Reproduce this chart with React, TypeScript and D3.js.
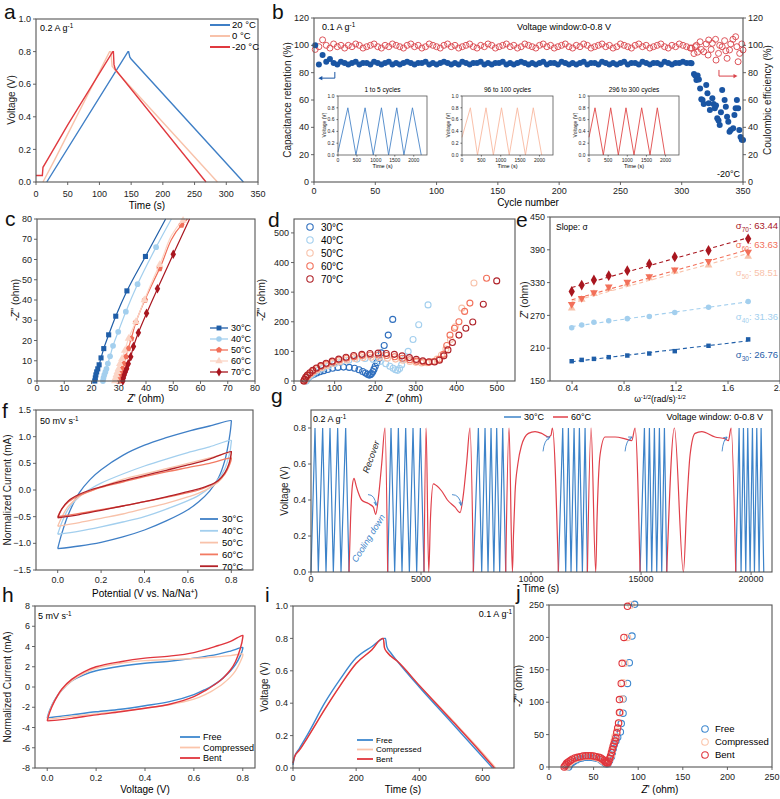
import React from 'react'
import * as d3 from 'd3'

const FONT = 'Liberation Sans, Arial, Helvetica, sans-serif'

// ---------- a : GCD at three temperatures ----------
const aT20 = [17, 145, 146, 148, 150, 327]
const aV20 = [0, 0.8, 0.8, 0.765, 0.755, 0]
const aT0 = [11, 30, 116, 118, 120, 124, 286]
const aV0 = [0, 0.14, 0.8, 0.8, 0.71, 0.69, 0]
const aTm20 = [0, 10, 11, 20, 50, 121, 122, 123, 125, 268]
const aVm20 = [0.04, 0.04, 0.09, 0.15, 0.35, 0.8, 0.8, 0.72, 0.69, 0]

// ---------- b : cycling at -20 C ----------
const bRetStable = [100, 86, 93, 88, 90, 87, 86, 88, 87, 86, 87, 88, 86, 87, 87, 86, 88, 87, 86, 87, 88, 86, 87, 86, 87, 88, 87, 86, 87, 87, 88, 86, 87, 86, 87, 88, 87, 86, 87, 86, 88, 87, 86, 87, 87, 88, 86, 87, 86, 87, 87, 88, 86, 87, 86, 87, 88, 87, 86, 87, 86, 87, 88, 86, 87, 87, 86, 88, 87, 86, 87, 86, 87, 88, 86, 87, 87, 86, 88, 87, 86, 87, 86, 87, 88, 86, 87, 87, 86, 88, 87, 86, 87, 87, 86, 88, 87, 86, 87, 87, 88, 87, 87]
const bEffStable = [97, 99, 104, 100, 98, 101, 99, 100, 98, 100, 99, 101, 100, 98, 99, 100, 101, 99, 98, 100, 99, 101, 100, 99, 98, 100, 101, 99, 100, 98, 99, 101, 100, 99, 98, 100, 101, 99, 100, 98, 99, 100, 101, 99, 98, 100, 99, 101, 100, 98, 99, 100, 101, 99, 100, 98, 99, 101, 100, 99, 98, 100, 101, 99, 100, 98, 99, 100, 101, 99, 98, 100, 99, 101, 100, 98, 99, 100, 101, 99, 100, 98, 99, 101, 100, 99, 98, 100, 101, 99, 100, 98, 99, 100, 101, 99, 98, 100, 99, 101, 100, 99, 98]
const bRetTailC = [308, 310, 311, 312, 313, 314, 315, 316, 317, 318, 320, 321, 322, 323, 325, 326, 327, 328, 329, 330, 331, 332, 333, 335, 336, 337, 338, 339, 340, 342, 343, 344, 345, 346, 347, 348, 349, 350]
const bRetTail = [86.8, 79, 78, 74.6, 78, 75, 68.5, 60.5, 60, 57, 71, 65, 57.6, 52.7, 61.2, 57, 53.9, 56, 46.6, 45, 41.7, 51, 67.3, 60, 55, 47.8, 44, 36.8, 38, 39.3, 49, 54, 60, 53.9, 38, 33, 31, 30.7]
const bEffTailC = [308, 310, 311, 312, 313, 315, 316, 318, 320, 321.5, 322, 324, 325, 327.6, 328, 330, 331, 333, 335, 336, 337, 339, 340, 341.8, 344, 345, 346, 347.3, 349, 350]
const bEffTail = [98, 94, 99, 100, 95, 102.6, 97, 95.3, 101, 92.9, 103.9, 97, 101.5, 104.4, 89.2, 94.1, 100, 99, 103.4, 96, 90.5, 96.6, 101, 104.4, 106.3, 99, 88, 94.1, 101, 96.6]
const bIn1 = [[0, 0.05], [260, 0.8], [474, 0], [715, 0.8], [931, 0], [1147, 0.8], [1336, 0], [1552, 0.8], [1741, 0], [1966, 0.8], [2198, 0]]
const bIn2 = [[0, 0.3], [216, 0.8], [400, 0], [620, 0.8], [810, 0], [1020, 0.8], [1220, 0], [1430, 0.8], [1638, 0], [1841, 0.8], [2058, 0]]
const bIn3 = [[0, 0.3], [157, 0.8], [374, 0], [566, 0.8], [766, 0], [966, 0.8], [1175, 0], [1375, 0.8], [1593, 0], [1784, 0.8], [1984, 0]]
const bInTitles = ['1 to 5 cycles', '96 to 100 cycles', '296 to 300 cycles']

// ---------- c : high-frequency Nyquist ----------
const cX30 = [21.2, 21.4, 21.6, 21.9, 22.3, 22.8, 23.5, 24.5, 26.3, 28.9, 33.0, 39.8, 47.2]
const cY30 = [0, 1.5, 3, 4.5, 6, 8, 11.4, 16, 22.8, 32, 44.5, 61.5, 80]
const cX40 = [24.2, 24.4, 24.7, 25.1, 25.5, 26.0, 26.8, 27.9, 29.8, 32.6, 36.9, 43.7, 49.3]
const cY40 = [0, 1.5, 3, 4.5, 6, 8.6, 12.2, 17.4, 24.3, 34.2, 47.8, 66.1, 80]
const cX50 = [30.0, 30.2, 30.5, 30.9, 31.3, 31.9, 32.6, 33.5, 34.6, 36.3, 39.6, 45.0, 53.0, 55.2]
const cY50 = [0, 1.5, 3, 4.5, 6, 8.5, 12, 16, 21, 29, 40, 55.5, 77, 80]
const cX60 = [28.6, 28.8, 29.1, 29.5, 29.9, 30.4, 31.2, 32.2, 33.6, 36.3, 39.4, 45.0, 53.6, 54.2]
const cY60 = [0, 1.5, 3, 4.5, 6, 8.5, 11, 15, 21, 29.3, 40, 57.4, 79.3, 80]
const cX70 = [31.5, 31.7, 32.0, 32.4, 32.9, 33.5, 34.4, 35.4, 37.2, 40.2, 44.2, 50.0, 56.0]
const cY70 = [0, 1.5, 3, 4.5, 6, 8.5, 12, 17, 23.8, 33.4, 45.5, 62.6, 80]

// ---------- d : full Nyquist ----------
const dR30 = [28, 29, 31, 34, 38, 43, 49, 56, 64, 73, 83, 95, 108, 122, 136, 149, 160, 169, 176, 181, 185, 188, 191, 194, 197, 200, 204, 209, 215, 222, 232, 243]
const dI30 = [0, 3, 7, 11, 15, 19, 23, 27, 31, 35, 39, 43, 46, 47, 46, 43, 38, 32, 27, 23, 20, 21, 25, 31, 40, 50, 62, 77, 95, 120, 155, 208]
const dR40 = [30, 32, 35, 39, 45, 52, 61, 72, 85, 100, 117, 135, 155, 175, 195, 212, 226, 236, 244, 250, 255, 260, 265, 272, 281, 293, 307, 330]
const dI40 = [0, 5, 10, 16, 23, 30, 37, 44, 51, 58, 64, 70, 74, 76, 73, 66, 58, 50, 43, 38, 36, 42, 55, 75, 100, 140, 190, 257]
const dR50 = [26, 28, 31, 35, 41, 48, 57, 68, 81, 96, 112, 130, 150, 170, 190, 210, 230, 250, 268, 285, 300, 314, 327, 340, 352, 363, 374, 385, 397, 413, 443]
const dI50 = [0, 5, 11, 17, 24, 31, 38, 45, 52, 59, 65, 71, 76, 79, 80, 79, 77, 74, 70, 66, 63, 61, 62, 66, 74, 88, 108, 140, 183, 246, 331]
const dR60 = [25, 27, 30, 34, 40, 47, 56, 67, 80, 95, 111, 129, 148, 168, 188, 208, 228, 248, 267, 285, 302, 318, 332, 345, 357, 368, 376, 384, 395, 406, 420, 433, 474]
const dI60 = [0, 6, 12, 19, 26, 34, 42, 50, 57, 64, 71, 77, 82, 86, 88, 88, 86, 82, 77, 72, 67, 64, 63, 66, 73, 90, 120, 155, 178, 200, 235, 263, 347]
const dR70 = [24, 26, 29, 33, 39, 46, 55, 66, 79, 94, 110, 128, 147, 167, 187, 207, 227, 247, 266, 284, 301, 317, 332, 346, 358, 369, 379, 390, 406, 423, 440, 466, 499]
const dI70 = [0, 6, 13, 20, 28, 36, 44, 52, 60, 67, 74, 80, 86, 90, 93, 94, 93, 90, 85, 79, 73, 68, 65, 64, 70, 85, 105, 130, 155, 178, 199, 259, 338]

// ---------- e : Warburg slopes ----------
const eW = [0.397, 0.474, 0.568, 0.682, 0.825, 0.994, 1.19, 1.45, 1.755]
const e30 = [186.2, 188.6, 190.5, 193.6, 196.6, 200.3, 204.6, 214.4, 226.1]
const e40 = [247.5, 252.4, 257.3, 260.4, 264.1, 267.8, 275.2, 285.0, 295.4]
const e50 = [283.1, 299.1, 309.5, 318.7, 327.3, 338.3, 350.6, 361.7, 377.6]
const e60 = [290.5, 301.5, 311.9, 322.4, 331.0, 341.4, 353.7, 369.0, 386.2]
const e70 = [313.8, 325.5, 334.7, 342.7, 351.8, 364.1, 377.0, 388.7, 410.1]
const eSig = ['26.76', '31.36', '58.51', '63.63', '63.44']

// ---------- f : CV 50 mV/s ----------
const fX = [0, 0.02, 0.05, 0.1, 0.15, 0.2, 0.3, 0.4, 0.5, 0.6, 0.7, 0.8, 0.8, 0.79, 0.77, 0.74, 0.7, 0.65, 0.6, 0.5, 0.4, 0.3, 0.2, 0.1, 0]
const f30 = [-1.1, -0.8, -0.45, -0.05, 0.2, 0.38, 0.65, 0.84, 0.98, 1.1, 1.2, 1.3, 1.28, 0.95, 0.55, 0.22, -0.02, -0.22, -0.37, -0.58, -0.75, -0.88, -0.98, -1.05, -1.1]
const f40 = [-0.83, -0.6, -0.35, -0.12, 0.02, 0.13, 0.3, 0.45, 0.58, 0.7, 0.81, 0.93, 0.9, 0.65, 0.4, 0.2, 0.04, -0.1, -0.2, -0.36, -0.5, -0.6, -0.69, -0.77, -0.83]
const f50 = [-0.68, -0.5, -0.3, -0.12, -0.02, 0.06, 0.2, 0.3, 0.4, 0.5, 0.6, 0.7, 0.68, 0.5, 0.3, 0.15, 0.04, -0.06, -0.13, -0.25, -0.35, -0.45, -0.53, -0.61, -0.68]
const f60 = [-0.5, -0.35, -0.22, -0.1, -0.02, 0.05, 0.15, 0.25, 0.34, 0.42, 0.5, 0.6, 0.58, 0.45, 0.3, 0.17, 0.08, 0.0, -0.05, -0.14, -0.22, -0.3, -0.37, -0.44, -0.5]
const f70 = [-0.52, -0.35, -0.2, -0.08, 0.0, 0.06, 0.17, 0.27, 0.37, 0.47, 0.58, 0.72, 0.7, 0.5, 0.32, 0.18, 0.09, 0.02, -0.03, -0.13, -0.22, -0.3, -0.38, -0.46, -0.52]

// ---------- g : temperature switching ----------
const gBlue = [
  [[0, 0], [182, 0.8], [333, 0], [530, 0.8], [682, 0], [864, 0.8], [1015, 0], [1212, 0.8], [1364, 0], [1576, 0.8], [1727, 0]],
  [[3485, 0], [3636, 0.8], [3803, 0], [3970, 0.8], [4136, 0], [4303, 0.8], [4470, 0], [4636, 0.8], [4803, 0], [4970, 0.8], [5136, 0]],
  [[7379, 0], [7606, 0.8], [7758, 0], [7909, 0.8], [8045, 0], [8182, 0.8], [8310, 0], [8439, 0.8], [8575, 0], [8712, 0.8], [8848, 0]],
  [[11242, 0], [11439, 0.8], [11576, 0], [11697, 0.8], [11818, 0], [11955, 0.8], [12076, 0], [12197, 0.8], [12333, 0], [12455, 0.8], [12561, 0]],
  [[14955, 0], [15152, 0.8], [15258, 0], [15379, 0.8], [15485, 0], [15606, 0.8], [15712, 0], [15833, 0.8], [15939, 0], [16061, 0.8], [16167, 0]],
  [[19303, 0], [19455, 0.8], [19545, 0], [19652, 0.8], [19758, 0], [19848, 0.8], [19955, 0], [20061, 0.8], [20152, 0], [20258, 0.8], [20364, 0], [20455, 0.8], [20576, 0]],
]
const gRed = [
  [[1727, 0], [1800, 0.3], [1880, 0.48], [1955, 0.52], [2050, 0.48], [2152, 0.44], [2303, 0.4], [2606, 0.38], [2833, 0.36], [2940, 0.32], [3060, 0.41], [3212, 0.6], [3364, 0.8], [3485, 0]],
  [[5136, 0], [5230, 0.8], [5350, 0], [5430, 0.3], [5560, 0.49], [5700, 0.48], [5939, 0.45], [6200, 0.4], [6545, 0.36], [6773, 0.33], [6924, 0.43], [7076, 0.61], [7227, 0.8], [7379, 0]],
  [[8848, 0], [9000, 0.8], [9152, 0], [9200, 0.2], [9273, 0.44], [9400, 0.6], [9560, 0.7], [9879, 0.77], [10182, 0.78], [10485, 0.77], [10788, 0.75], [10909, 0.76], [10970, 0.8], [11242, 0]],
  [[12561, 0], [12727, 0.8], [12939, 0], [13000, 0.3], [13136, 0.65], [13364, 0.75], [13818, 0.75], [14273, 0.74], [14576, 0.73], [14727, 0.8], [14955, 0]],
  [[16167, 0], [16515, 0.8], [16924, 0], [17076, 0.37], [17227, 0.65], [17455, 0.77], [17758, 0.78], [18364, 0.75], [18818, 0.74], [18970, 0.73], [19091, 0.8], [19303, 0]],
]
const gCoolArrows = [[2590, 0.43, 2955, 0.37], [6409, 0.43, 6818, 0.37]]
const gRecArrows = [[10545, 0.67, 10864, 0.75], [14273, 0.67, 14591, 0.75], [18682, 0.67, 18909, 0.75]]

// ---------- h : CV 5 mV/s under deformation ----------
const hX = [0, 0.01, 0.03, 0.06, 0.1, 0.15, 0.2, 0.3, 0.4, 0.5, 0.6, 0.7, 0.75, 0.8, 0.8, 0.79, 0.77, 0.75, 0.72, 0.7, 0.67, 0.65, 0.6, 0.5, 0.4, 0.3, 0.2, 0.1, 0.05, 0]
const hFree = [-3.05, -2.3, -1.3, -0.3, 0.6, 1.2, 1.6, 2.05, 2.35, 2.55, 2.85, 3.25, 3.55, 3.9, 3.8, 3.1, 2.2, 1.6, 0.9, 0.5, 0.05, -0.2, -0.75, -1.45, -1.85, -2.2, -2.45, -2.75, -2.9, -3.05]
const hComp = [-3.2, -2.4, -1.35, -0.3, 0.6, 1.35, 1.85, 2.35, 2.6, 2.72, 2.82, 3.0, 3.1, 3.25, 3.1, 2.5, 1.6, 1.0, 0.35, 0.0, -0.45, -0.7, -1.2, -1.75, -2.1, -2.4, -2.65, -2.9, -3.05, -3.2]
const hBent = [-3.35, -2.5, -1.4, -0.2, 0.75, 1.5, 2.0, 2.5, 2.85, 3.05, 3.4, 4.1, 4.5, 5.1, 4.9, 3.8, 2.5, 1.7, 0.9, 0.5, 0.0, -0.3, -0.95, -1.7, -2.1, -2.45, -2.75, -3.1, -3.25, -3.35]

// ---------- i : GCD 0.1 A/g ----------
const iTFree = [0, 5, 20, 50, 100, 150, 200, 250, 290, 293, 297, 310, 330, 400, 500, 600, 632]
const iVFree = [0.02, 0.07, 0.12, 0.22, 0.4, 0.55, 0.68, 0.75, 0.8, 0.8, 0.75, 0.71, 0.66, 0.5, 0.285, 0.07, 0]
const iTBent = [0, 5, 20, 50, 100, 150, 200, 250, 284, 286, 290, 300, 330, 400, 500, 600, 638]
const iVBent = [0.03, 0.07, 0.11, 0.2, 0.36, 0.51, 0.645, 0.73, 0.8, 0.8, 0.74, 0.71, 0.66, 0.51, 0.3, 0.085, 0]
const iTComp = [0, 5, 20, 50, 100, 150, 200, 250, 284, 286, 290, 300, 330, 400, 500, 600, 642]
const iVComp = [0.03, 0.07, 0.11, 0.2, 0.36, 0.51, 0.645, 0.73, 0.8, 0.8, 0.74, 0.71, 0.66, 0.51, 0.305, 0.095, 0]

// ---------- j : Nyquist under deformation ----------
const jRBent = [17, 18, 19, 20, 22, 24, 26, 29, 32, 35, 38, 41, 44, 47, 50, 53, 56, 58, 60, 62, 63, 64, 65, 66, 67, 68, 69, 70, 71, 72, 73, 74, 75, 76, 77, 78, 79, 79, 81, 82, 84, 88]
const jIBent = [0, 2, 4, 6, 8, 10, 12, 14, 15, 16, 17, 17.5, 17.5, 17.5, 17, 16, 15, 14, 12, 10, 8, 7, 6, 6, 9, 13, 17, 22, 27, 32, 36, 40, 45, 53, 60, 68, 84, 104, 129, 160, 200, 248]
const jRComp = [20, 21, 22, 24, 26, 29, 32, 35, 38, 41, 44, 47, 50, 53, 56, 59, 61, 63, 64, 66, 68, 70, 71, 72, 73, 74, 76, 78, 80, 82, 83, 85, 88, 92]
const jIComp = [0, 3, 5, 8, 10, 12, 14, 15, 16, 16.5, 16.5, 16.5, 16, 15, 13, 11, 9, 7, 6, 6, 12, 18, 25, 32, 40, 47, 55, 67, 84, 105, 130, 160, 200, 250]
const jRFree = [22, 23, 24, 26, 28, 31, 34, 37, 40, 43, 46, 49, 52, 55, 58, 60, 62, 63, 64, 66, 68, 70, 71, 72, 73, 75, 77, 80, 81, 83, 83, 88, 90, 93, 96]
const jIFree = [0, 3, 5, 7, 9, 11, 13, 14, 15, 15, 15, 14.5, 14, 13, 11, 9, 7, 6, 5, 5, 10, 16, 22, 28, 34, 40, 46, 54, 67, 83, 105, 129, 161, 202, 251]

const C = {
  blue: '#3f7fc6', dblue: '#1f5ea8', lblue: '#a3cfee', peach: '#f8c2aa', orange: '#f2705a', red: '#e0393f', dred: '#a8161f',
}

const zip = (a: number[], b: number[]) => a.map((v, i) => [v, b[i]])

function Frame({ x, y, xt, yt, xf = (v: any) => String(v), yf = (v: any) => String(v), fs = 9, tl = 3, xo = 12, yr, sw = 1.1 }: any) {
  const [x0, x1] = x.range()
  const [yb, ytop] = y.range()
  return (
    <g fontSize={fs} fill="#222">
      {xt.map((t: number) => (
        <g key={'x' + t}>
          <line x1={x(t)} x2={x(t)} y1={yb} y2={yb + tl} stroke="#555" strokeWidth={0.9} />
          <text x={x(t)} y={yb + xo} textAnchor="middle">{xf(t)}</text>
        </g>
      ))}
      {yt.map((t: number) => (
        <g key={'y' + t}>
          <line x1={x0 - tl} x2={x0} y1={y(t)} y2={y(t)} stroke="#555" strokeWidth={0.9} />
          <text x={x0 - tl - 2} y={y(t)} dy="0.35em" textAnchor="end">{yf(t)}</text>
        </g>
      ))}
      {yr && yt.map((t: number) => (
        <g key={'r' + t}>
          <line x1={x1} x2={x1 + tl} y1={y(t)} y2={y(t)} stroke="#555" strokeWidth={0.9} />
          <text x={x1 + tl + 2} y={y(t)} dy="0.35em" textAnchor="start">{yf(t)}</text>
        </g>
      ))}
      <rect x={x0} y={ytop} width={x1 - x0} height={yb - ytop} fill="none" stroke="#555" strokeWidth={sw} />
    </g>
  )
}

function sym(type: string, size: number) {
  if (type === 'pent') {
    const r = Math.sqrt(size / 2.4)
    const pts = d3.range(5).map(i => {
      const a = -Math.PI / 2 + (i * 2 * Math.PI) / 5
      return [r * Math.cos(a), r * Math.sin(a)]
    })
    return 'M' + pts.map(p => p.join(',')).join('L') + 'Z'
  }
  const m: any = { square: d3.symbolSquare, circle: d3.symbolCircle, tri: d3.symbolTriangle, diamond: d3.symbolDiamond }
  return d3.symbol().type(m[type] || d3.symbolCircle).size(size)() as string
}

const YLabel = ({ x, y, children, fs = 10 }: any) => (
  <text transform={`translate(${x},${y}) rotate(-90)`} textAnchor="middle" fontSize={fs} fill="#222">{children}</text>
)
const Letter = ({ x, y, t }: any) => <text x={x} y={y} fontSize={21} fill="#111">{t}</text>
const Sup = ({ children }: any) => <tspan dy={-3.5} fontSize="0.7em">{children}</tspan>

function fit(xs: number[], ys: number[]) {
  const mx = d3.mean(xs) as number
  const my = d3.mean(ys) as number
  const k = d3.sum(xs.map((v, i) => (v - mx) * (ys[i] - my))) / d3.sum(xs.map(v => (v - mx) ** 2))
  return (v: number) => my + k * (v - mx)
}

export default function App() {
  // ---------- scales ----------
  const xA = d3.scaleLinear([0, 350], [36, 258]), yA = d3.scaleLinear([0, 1], [182, 19])
  const xB = d3.scaleLinear([0, 350], [314, 743]), yB = d3.scaleLinear([0, 120], [182, 18])
  const yIn = d3.scaleLinear([0, 1], [155, 96])
  const inX = [[338, 427], [462, 553], [589, 679]].map(r => d3.scaleLinear([0, 2350], r))
  const xC = d3.scaleLinear([0, 80], [37, 255]), yC = d3.scaleLinear([0, 80], [381, 219])
  const xD = d3.scaleLinear([0, 544], [294, 515]), yD = d3.scaleLinear([0, 547], [381, 219])
  const xE = d3.scaleLinear([0.23, 2.0], [550, 780]), yE = d3.scaleLinear([150, 450], [381, 217])
  const xF = d3.scaleLinear([-0.1, 0.9], [36, 253]), yF = d3.scaleLinear([-1.5, 1.5], [570, 410])
  const xG = d3.scaleLinear([0, 20950], [311, 772]), yG = d3.scaleLinear([0, 0.9], [572, 410])
  const xH = d3.scaleLinear([-0.05, 0.85], [35, 255]), yH = d3.scaleLinear([-8, 8], [768, 606])
  const xI = d3.scaleLinear([0, 700], [293, 514]), yI = d3.scaleLinear([0, 1], [768, 606])
  const xJ = d3.scaleLinear([0, 250], [549, 772]), yJ = d3.scaleLinear([0, 250], [767, 605])

  const f1 = d3.format('.1f')
  const ln = (x: any, y: any, curve: any = d3.curveLinear) => d3.line<any>().x(d => x(d[0])).y(d => y(d[1])).curve(curve)

  // ---------- a ----------
  const lA = ln(xA, yA)
  const aSeries = [
    { t: aT20, v: aV20, c: C.blue, n: '20 °C' },
    { t: aT0, v: aV0, c: C.peach, n: '0 °C' },
    { t: aTm20, v: aVm20, c: C.red, n: '-20 °C' },
  ]

  // ---------- c ----------
  const cSeries = [
    { x: cX30, y: cY30, c: C.dblue, m: 'square', n: '30°C' },
    { x: cX40, y: cY40, c: C.lblue, m: 'circle', n: '40°C' },
    { x: cX50, y: cY50, c: C.orange, m: 'pent', n: '50°C' },
    { x: cX60, y: cY60, c: '#fbd5c6', m: 'tri', n: '60°C' },
    { x: cX70, y: cY70, c: C.dred, m: 'diamond', n: '70°C' },
  ]
  const dSeries = [
    { x: dR30, y: dI30, c: '#2f6fbe', n: '30°C' },
    { x: dR40, y: dI40, c: C.lblue, n: '40°C' },
    { x: dR50, y: dI50, c: C.peach, n: '50°C' },
    { x: dR60, y: dI60, c: C.orange, n: '60°C' },
    { x: dR70, y: dI70, c: '#b0232a', n: '70°C' },
  ]
  const eSeries = [
    { y: e30, c: C.dblue, m: 'square', s: 20, rot: 0, sub: '30', ly: 358 },
    { y: e40, c: C.lblue, m: 'circle', s: 24, rot: 0, sub: '40', ly: 320 },
    { y: e50, c: C.peach, m: 'tri', s: 26, rot: 0, sub: '50', ly: 276 },
    { y: e60, c: C.orange, m: 'tri', s: 26, rot: 180, sub: '60', ly: 248 },
    { y: e70, c: C.dred, m: 'diamond', s: 34, rot: 0, sub: '70', ly: 229 },
  ]
  const fSeries = [
    { y: f30, c: C.blue, n: '30°C' },
    { y: f40, c: C.lblue, n: '40°C' },
    { y: f50, c: C.peach, n: '50°C' },
    { y: f60, c: '#f27a62', n: '60°C' },
    { y: f70, c: '#b32128', n: '70°C' },
  ]
  const defo = [
    { n: 'Free', c: '#3e88cf' },
    { n: 'Compressed', c: '#fbc5ab' },
    { n: 'Bent', c: '#e0353d' },
  ]
  const hS = [hFree, hComp, hBent]
  const iS = [zip(iTFree, iVFree), zip(iTComp, iVComp), zip(iTBent, iVBent)]
  const jS = [zip(jRFree, jIFree), zip(jRComp, jIComp), zip(jRBent, jIBent)]

  const gBlueC = '#3d83c9', gRedC = '#e0404a'

  return (
    <svg width={780} height={799} style={{ position: 'absolute', left: 0, top: 0, background: '#fff' }} fontFamily={FONT}>
      <rect width={780} height={799} fill="#fff" />

      {/* ================= a ================= */}
      <Letter x={4} y={19} t="a" />
      {aSeries.map(s => (
        <path key={s.n} d={lA(zip(s.t, s.v)) as string} fill="none" stroke={s.c} strokeWidth={1.4} />
      ))}
      <Frame x={xA} y={yA} xt={d3.range(0, 351, 50)} yt={[0, 0.2, 0.4, 0.6, 0.8, 1.0]} yf={f1} xo={14.5} />
      <text x={40} y={31} fontSize={9}>0.2 A g<Sup>-1</Sup></text>
      {aSeries.map((s, i) => (
        <g key={'la' + i}>
          <line x1={210} x2={230} y1={25 + i * 11} y2={25 + i * 11} stroke={s.c} strokeWidth={2} />
          <text x={232} y={25 + i * 11} dy="0.35em" fontSize={9.5}>{s.n}</text>
        </g>
      ))}
      <text x={147} y={209} textAnchor="middle" fontSize={10}>Time (s)</text>
      <YLabel x={15} y={100}>Voltage (V)</YLabel>

      {/* ================= b ================= */}
      <Letter x={272} y={19} t="b" />
      {bEffStable.map((v, i) => <circle key={'be' + i} cx={xB(1 + 3 * i)} cy={yB(v)} r={3} fill="none" stroke="#d9434a" strokeWidth={0.9} />)}
      {bEffTail.map((v, i) => <circle key={'bet' + i} cx={xB(bEffTailC[i])} cy={yB(v)} r={3} fill="none" stroke="#d9434a" strokeWidth={0.9} />)}
      {bRetStable.map((v, i) => <circle key={'br' + i} cx={xB(1 + 3 * i)} cy={yB(v)} r={3} fill="#1a55a3" />)}
      {bRetTail.map((v, i) => <circle key={'brt' + i} cx={xB(bRetTailC[i])} cy={yB(v)} r={3} fill="#1a55a3" />)}
      <Frame x={xB} y={yB} xt={d3.range(0, 351, 50)} yt={d3.range(0, 121, 20)} yr xo={11.5} />
      {[bIn1, bIn2, bIn3].map((w, k) => {
        const xs = inX[k]
        const col = ['#4a86c8', '#f8b9a0', '#e04848'][k]
        const [l, r] = xs.range()
        return (
          <g key={'in' + k}>
            <path d={ln(xs, yIn)(w) as string} fill="none" stroke={col} strokeWidth={0.9} />
            <Frame x={xs} y={yIn} xt={[0, 500, 1000, 1500, 2000]} yt={[0, 0.2, 0.4, 0.6, 0.8, 1.0]} yf={f1} fs={5} tl={1.5} xo={7} sw={0.8} />
            <text x={(l + r) / 2} y={92} textAnchor="middle" fontSize={6.5}>{bInTitles[k]}</text>
            <text x={(l + r) / 2} y={168} textAnchor="middle" fontSize={5.5}>Time (s)</text>
            <YLabel x={l - 12} y={125} fs={5}>Voltage (V)</YLabel>
          </g>
        )
      })}
      <path d={`M${xB(17)},${yB(80.5)} V${yB(76)} H${xB(5)}`} fill="none" stroke="#1a55a3" strokeWidth={1} />
      <path d={`M${xB(3.5)},${yB(76)} l4,-2.2 v4.4 Z`} fill="#1a55a3" />
      <path d={`M${xB(330.4)},${yB(82)} V${yB(77.5)} H${xB(344)}`} fill="none" stroke="#d9434a" strokeWidth={1} />
      <path d={`M${xB(345.5)},${yB(77.5)} l-4,-2.2 v4.4 Z`} fill="#d9434a" />
      <text x={322} y={30} fontSize={9}>0.1 A g<Sup>-1</Sup></text>
      <text x={517} y={30} fontSize={9}>Voltage window:0-0.8 V</text>
      <text x={717} y={177} fontSize={9}>-20°C</text>
      <text x={528} y={206} textAnchor="middle" fontSize={10}>Cycle number</text>
      <YLabel x={291} y={100}>Capacitance retention (%)</YLabel>
      <YLabel x={771} y={100}>Coulombic efficiency (%)</YLabel>

      {/* ================= c ================= */}
      <Letter x={5} y={226} t="c" />
      {cSeries.map(s => {
        const pts = zip(s.x, s.y)
        return (
          <g key={'c' + s.n}>
            <path d={ln(xC, yC, d3.curveMonotoneY)(pts) as string} fill="none" stroke={s.c} strokeWidth={1.2} />
            {pts.slice(0, -1).map((p, i) => (
              <path key={i} d={sym(s.m, 26)} transform={`translate(${xC(p[0])},${yC(p[1])})`} fill={s.c} />
            ))}
          </g>
        )
      })}
      <Frame x={xC} y={yC} xt={d3.range(0, 81, 10)} yt={d3.range(0, 81, 10)} xo={9.5} />
      {cSeries.map((s, i) => (
        <g key={'lc' + i} transform={`translate(0,${328 + i * 11})`}>
          <line x1={210} x2={228} stroke={s.c} strokeWidth={1.3} />
          <path d={sym(s.m, 24)} transform="translate(219,0)" fill={s.c} />
          <text x={231} dy="0.35em" fontSize={9}>{s.n}</text>
        </g>
      ))}
      <text x={146} y={402} textAnchor="middle" fontSize={10}><tspan fontStyle="italic">Z</tspan>' (ohm)</text>
      <YLabel x={19} y={300}>-<tspan fontStyle="italic">Z</tspan>'' (ohm)</YLabel>

      {/* ================= d ================= */}
      <Letter x={268} y={227} t="d" />
      {dSeries.map(s => (
        <g key={'d' + s.n}>
          {zip(s.x, s.y).map((p, i) => (
            <circle key={i} cx={xD(p[0])} cy={yD(p[1])} r={3} fill="none" stroke={s.c} strokeWidth={1.1} />
          ))}
        </g>
      ))}
      <Frame x={xD} y={yD} xt={d3.range(0, 501, 100)} yt={d3.range(0, 501, 100)} xo={10} />
      {dSeries.map((s, i) => (
        <g key={'ld' + i} transform={`translate(0,${227 + i * 13})`}>
          <circle cx={310} r={3.2} fill="none" stroke={s.c} strokeWidth={1.1} />
          <text x={321} dy="0.35em" fontSize={10}>{s.n}</text>
        </g>
      ))}
      <text x={404} y={402} textAnchor="middle" fontSize={10}><tspan fontStyle="italic">Z</tspan>' (ohm)</text>
      <YLabel x={265} y={300}>-<tspan fontStyle="italic">Z</tspan>'' (ohm)</YLabel>

      {/* ================= e ================= */}
      <Letter x={516} y={227} t="e" />
      {eSeries.map((s, k) => {
        const f = fit(eW, s.y)
        return (
          <g key={'e' + s.sub}>
            <line x1={xE(eW[0])} x2={xE(eW[eW.length - 1])} y1={yE(f(eW[0]))} y2={yE(f(eW[eW.length - 1]))} stroke={s.c} strokeWidth={1.1} strokeDasharray="4,3" />
            {eW.map((w, i) => (
              <path key={i} d={sym(s.m, s.s)} transform={`translate(${xE(w)},${yE(s.y[i])}) rotate(${s.rot})`} fill={s.c} />
            ))}
            <text x={778} y={s.ly} textAnchor="end" fontSize={9.5} fill={s.c}>σ<tspan dy={2.5} fontSize={6.5}>{s.sub}</tspan><tspan dy={-2.5}>: {eSig[k]}</tspan></text>
          </g>
        )
      })}
      <Frame x={xE} y={yE} xt={[0.4, 0.8, 1.2, 1.6, 2.0]} xf={f1} yt={d3.range(150, 451, 60)} xo={10} />
      <text x={556} y={230} fontSize={8.5}>Slope: σ</text>
      <text x={660} y={402} textAnchor="middle" fontSize={8.5}>ω<Sup>-1/2</Sup><tspan dy={3.5}>(rad/s)</tspan><Sup>-1/2</Sup></text>
      <YLabel x={528} y={300}><tspan fontStyle="italic">Z</tspan>' (ohm)</YLabel>

      {/* ================= f ================= */}
      <Letter x={2} y={418} t="f" />
      {fSeries.map(s => (
        <path key={'f' + s.n} d={ln(xF, yF, d3.curveCatmullRom)(zip(fX, s.y)) as string} fill="none" stroke={s.c} strokeWidth={1.3} />
      ))}
      <Frame x={xF} y={yF} xt={[0, 0.2, 0.4, 0.6, 0.8]} xf={f1} yt={[-1.5, -1, -0.5, 0, 0.5, 1, 1.5]} yf={f1} xo={12.5} />
      {fSeries.map((s, i) => (
        <g key={'lf' + i} transform={`translate(0,${519 + i * 11.8})`}>
          <line x1={200} x2={218} stroke={s.c} strokeWidth={1.8} />
          <text x={222} dy="0.35em" fontSize={9.5}>{s.n}</text>
        </g>
      ))}
      <text x={40} y={424} fontSize={9}>50 mV s<Sup>-1</Sup></text>
      <text x={145} y={597} textAnchor="middle" fontSize={10}>Potential (V vs. Na/Na<Sup>+</Sup><tspan dy={3.5}>)</tspan></text>
      <YLabel x={11} y={490}>Normalized Current (mA)</YLabel>

      {/* ================= g ================= */}
      <Letter x={271} y={403} t="g" />
      {gBlue.map((seg, i) => <path key={'gb' + i} d={ln(xG, yG)(seg) as string} fill="none" stroke={gBlueC} strokeWidth={1.2} />)}
      {gRed.map((seg, i) => <path key={'gr' + i} d={ln(xG, yG, d3.curveMonotoneX)(seg) as string} fill="none" stroke={gRedC} strokeWidth={1.2} />)}
      <Frame x={xG} y={yG} xt={d3.range(0, 20001, 5000)} yt={[0, 0.2, 0.4, 0.6, 0.8]} yf={f1} xo={9.5} />
      {[...gCoolArrows, ...gRecArrows].map((a, i) => {
        const x1 = xG(a[0]), y1 = yG(a[1]), x2 = xG(a[2]), y2 = yG(a[3])
        const cx = i < 2 ? x2 - 1 : x1 + 1, cy = i < 2 ? y1 : y2 + 3
        const ang = Math.atan2(y2 - cy, x2 - cx)
        return (
          <g key={'ga' + i}>
            <path d={`M${x1},${y1} Q${cx},${cy} ${x2},${y2}`} fill="none" stroke={gBlueC} strokeWidth={0.9} />
            <path d={`M${x2},${y2} l${-4 * Math.cos(ang - 0.45)},${-4 * Math.sin(ang - 0.45)} M${x2},${y2} l${-4 * Math.cos(ang + 0.45)},${-4 * Math.sin(ang + 0.45)}`} stroke={gBlueC} strokeWidth={0.9} />
          </g>
        )
      })}
      <text transform="translate(374,458) rotate(-70)" textAnchor="middle" fontSize={9} fill="#222" fontStyle="italic">Recover</text>
      <text transform="translate(371,540) rotate(-58)" textAnchor="middle" fontSize={9} fill={gBlueC} fontStyle="italic">Cooling down</text>
      <text x={313} y={422} fontSize={9}>0.2 A g<Sup>-1</Sup></text>
      <line x1={504} x2={521} y1={417} y2={417} stroke={gBlueC} strokeWidth={1.5} />
      <text x={524} y={417} dy="0.35em" fontSize={9}>30°C</text>
      <line x1={553} x2={568} y1={417} y2={417} stroke={gRedC} strokeWidth={1.5} />
      <text x={571} y={417} dy="0.35em" fontSize={9}>60°C</text>
      <text x={763} y={417} dy="0.35em" textAnchor="end" fontSize={9}>Voltage window: 0-0.8 V</text>
      <text x={541} y={592} textAnchor="middle" fontSize={10}>Time (s)</text>
      <YLabel x={288} y={491}>Voltage (V)</YLabel>

      {/* ================= h ================= */}
      <Letter x={2} y={602} t="h" />
      {hS.map((ys, k) => (
        <path key={'h' + k} d={ln(xH, yH, d3.curveCatmullRom)(zip(hX, ys)) as string} fill="none" stroke={defo[k].c} strokeWidth={1.4} />
      ))}
      <Frame x={xH} y={yH} xt={[0, 0.2, 0.4, 0.6, 0.8]} xf={f1} yt={d3.range(-8, 9, 2)} xo={13} />
      {defo.map((s, i) => (
        <g key={'lh' + i} transform={`translate(0,${737 + i * 10.5})`}>
          <line x1={180} x2={200} stroke={s.c} strokeWidth={1.8} />
          <text x={203} dy="0.35em" fontSize={9}>{s.n}</text>
        </g>
      ))}
      <text x={38} y={619} fontSize={9}>5 mV s<Sup>-1</Sup></text>
      <text x={145} y={793} textAnchor="middle" fontSize={10}>Voltage (V)</text>
      <YLabel x={11} y={687}>Normalized Current (mA)</YLabel>

      {/* ================= i ================= */}
      <Letter x={265} y={602} t="i" />
      {[1, 0, 2].map(k => (
        <path key={'i' + k} d={ln(xI, yI, d3.curveMonotoneX)(iS[k]) as string} fill="none" stroke={defo[k].c} strokeWidth={1.4} />
      ))}
      <Frame x={xI} y={yI} xt={[0, 200, 400, 600]} yt={[0, 0.2, 0.4, 0.6, 0.8, 1.0]} yf={f1} xo={13} />
      {defo.map((s, i) => (
        <g key={'li' + i} transform={`translate(0,${740 + i * 9.5})`}>
          <line x1={357} x2={373} stroke={s.c} strokeWidth={1.8} />
          <text x={376} dy="0.35em" fontSize={8}>{s.n}</text>
        </g>
      ))}
      <text x={512} y={617} textAnchor="end" fontSize={9}>0.1 A g<Sup>-1</Sup></text>
      <text x={403} y={793} textAnchor="middle" fontSize={10}>Time (s)</text>
      <YLabel x={268} y={687}>Voltage (V)</YLabel>

      {/* ================= j ================= */}
      <text x={516} y={600} fontSize={21} fill="#111">j</text>
      {jS.map((pts, k) => (
        <g key={'j' + k}>
          {pts.map((p, i) => (
            <circle key={i} cx={xJ(p[0])} cy={yJ(p[1])} r={3.2} fill="none" stroke={defo[k].c} strokeWidth={1.1} />
          ))}
        </g>
      ))}
      <Frame x={xJ} y={yJ} xt={d3.range(0, 251, 50)} yt={d3.range(0, 251, 50)} xo={13} />
      {defo.map((s, i) => (
        <g key={'lj' + i} transform={`translate(0,${729 + i * 13})`}>
          <circle cx={705} r={3.3} fill="none" stroke={s.c} strokeWidth={1.1} />
          <text x={715} dy="0.35em" fontSize={9.5}>{s.n}</text>
        </g>
      ))}
      <text x={660} y={793} textAnchor="middle" fontSize={10}><tspan fontStyle="italic">Z</tspan>' (ohm)</text>
      <YLabel x={522} y={686}>-<tspan fontStyle="italic">Z</tspan>'' (ohm)</YLabel>
    </svg>
  )
}
